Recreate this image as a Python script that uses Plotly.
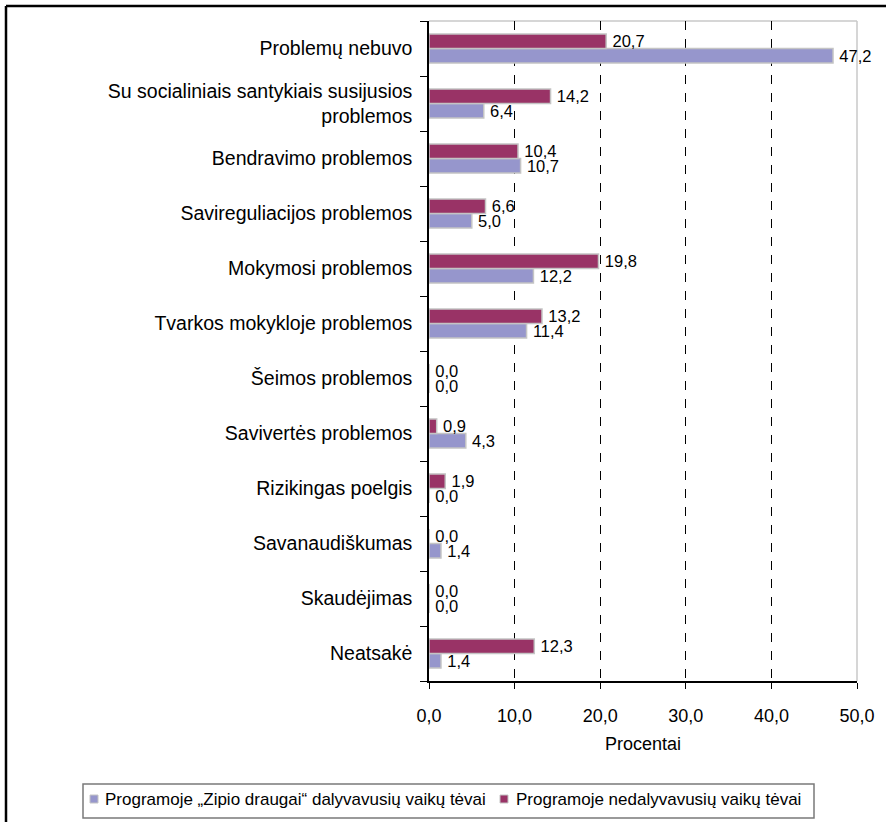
import plotly.graph_objects as go

categories = [
    "Problemų nebuvo",
    "Su socialiniais santykiais susijusios<br>problemos",
    "Bendravimo problemos",
    "Savireguliacijos problemos",
    "Mokymosi problemos",
    "Tvarkos mokykloje problemos",
    "Šeimos problemos",
    "Savivertės problemos",
    "Rizikingas poelgis",
    "Savanaudiškumas",
    "Skaudėjimas",
    "Neatsakė",
]
zipio = [47.2, 6.4, 10.7, 5.0, 12.2, 11.4, 0.0, 4.3, 0.0, 1.4, 0.0, 1.4]
nedalyv = [20.7, 14.2, 10.4, 6.6, 19.8, 13.2, 0.0, 0.9, 1.9, 0.0, 0.0, 12.3]
series_names = [
    "Programoje „Zipio draugai“ dalyvavusių vaikų tėvai",
    "Programoje nedalyvavusių vaikų tėvai",
]
series_colors = ["#9696cc", "#993366"]
x_ticks = [0, 10, 20, 30, 40, 50]

FONT = "Liberation Sans, Arial, sans-serif"
W, H = 886, 822
L, R, T, B = 429, 29, 21, 141
pw, ph = W - L - R, H - T - B

def px2x(p):
    return (p - L) / pw

def py2y(p):
    return (H - B - p) / ph

fig = go.Figure()
for vals, name, col in zip([zipio, nedalyv], series_names, series_colors):
    fig.add_trace(go.Bar(
        y=categories, x=vals, orientation="h", name=name,
        marker=dict(color=col, line=dict(color="#c4c4c4", width=1.5)),
        texttemplate="\u2009%{x:.1f}", textposition="outside", constraintext="none",
        textfont=dict(family=FONT, size=16.5, color="#000000"),
        cliponaxis=False,
    ))

fig.update_layout(
    width=W, height=H,
    margin=dict(l=L, r=R, t=T, b=B, autoexpand=False),
    paper_bgcolor="white", plot_bgcolor="white",
    separators=",.",
    barmode="group", bargap=0.47, bargroupgap=0.0,
    font=dict(family=FONT, size=18, color="#000000"),
    showlegend=False,
)
fig.update_xaxes(
    range=[0, 50], tickvals=x_ticks, tickformat=".1f",
    showgrid=True, gridcolor="#000000", gridwidth=1, griddash="dash",
    showline=True, linecolor="#000000", linewidth=1.5,
    ticks="outside", ticklen=6, tickcolor="#000000",
    tickfont=dict(family=FONT, size=18),
    ticklabelstandoff=12,
    title=dict(text="Procentai", font=dict(family=FONT, size=18), standoff=12),
    zeroline=False,
)
fig.update_yaxes(
    categoryorder="array", categoryarray=categories[::-1],
    showgrid=False, showline=True, linecolor="#000000", linewidth=1.5,
    ticks="outside", ticklen=7, tickcolor="#000000", tickson="boundaries",
    tickfont=dict(family=FONT, size=19.5),
    ticklabelstandoff=11,
)
# light grey plot-area border (top and right)
fig.add_shape(type="line", xref="paper", yref="paper", x0=0, x1=1, y0=1, y1=1,
              line=dict(color="#c8c8c8", width=1.5), layer="below")
fig.add_shape(type="line", xref="paper", yref="paper", x0=1, x1=1, y0=0, y1=1,
              line=dict(color="#c8c8c8", width=1.5), layer="below")
# outer frame (top and left edges visible)
fig.add_shape(type="line", xref="paper", yref="paper", x0=px2x(6), x1=px2x(900),
              y0=py2y(6), y1=py2y(6), line=dict(color="#000000", width=2.5))
fig.add_shape(type="line", xref="paper", yref="paper", x0=px2x(6), x1=px2x(6),
              y0=py2y(6), y1=py2y(840), line=dict(color="#000000", width=2.5))

# legend box drawn as shapes + annotations
fig.add_shape(type="rect", xref="paper", yref="paper",
              x0=px2x(83), x1=px2x(814), y0=py2y(818), y1=py2y(784),
              line=dict(color="#7a7a7a", width=1.5), fillcolor="white")
for mx, tx, name, col in zip([90, 500], [103, 514], series_names, series_colors):
    fig.add_shape(type="rect", xref="paper", yref="paper",
                  x0=px2x(mx), x1=px2x(mx + 8), y0=py2y(803), y1=py2y(795),
                  line=dict(color="#c4c4c4", width=1), fillcolor=col)
    fig.add_annotation(xref="paper", yref="paper", x=px2x(tx), y=py2y(800),
                       text=name, showarrow=False, xanchor="left", yanchor="middle",
                       font=dict(family=FONT, size=17, color="#000000"))

fig.write_html("out.html", config={"displayModeBar": False},
               post_script="document.body.style.margin='0';document.body.style.overflow='hidden';")
